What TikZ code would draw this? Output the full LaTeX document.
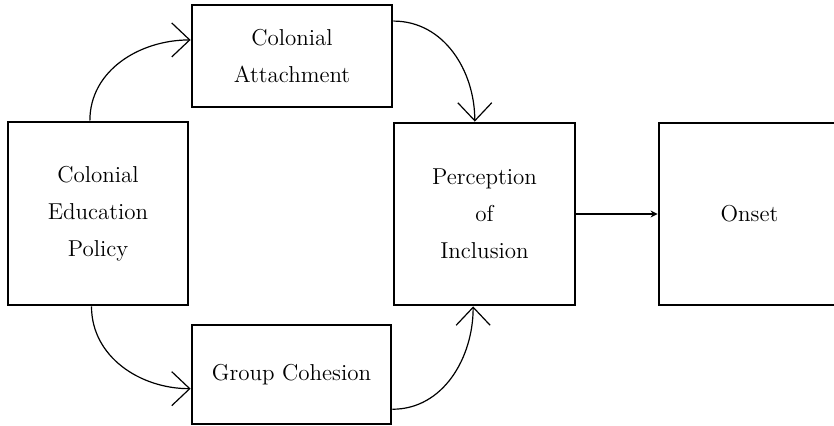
\documentclass[tikz,border=0pt]{standalone}
\usetikzlibrary{arrows.meta}
\tikzset{
  box/.style={draw, line width=1.4pt, align=center, inner sep=0pt, font=\fontsize{11.5}{18.5}\selectfont},
  link/.style={line width=0.6pt, -{Straight Barb[length=9pt,width=17pt]}},
}
\begin{document}
\begin{tikzpicture}[x=0.5pt,y=-0.5pt]
\useasboundingbox (0,0) rectangle (834,426);
\node (cep) at (98,213.5) [box, minimum width=90pt, minimum height=91.5pt]{Colonial\\Education\\Policy};
\node (ca) at (292,56) [box, minimum width=100pt, minimum height=51pt]{Colonial\\Attachment};
\node (gc) at (291.5,374.5) [box, minimum width=99.5pt, minimum height=49.5pt]{Group Cohesion};
\node (pi) at (484.5,214) [box, minimum width=90.5pt, minimum height=91pt]{Perception\\of\\Inclusion};
\node (on) at (749.5,214) [box, minimum width=90.5pt, minimum height=91pt]{Onset};
\draw[link] (cep.95.6) to[out=90, in=180] (ca.171.5);
\draw[link] (ca.19.8) to[out=0, in=90] (pi.96);
\draw[link] (cep.266.3) to[out=-90, in=180] (gc.188.3);
\draw[link] (gc.341.9) to[out=0, in=-90] (pi.263.4);
\draw[line width=1pt, -{Stealth[length=3.5pt,width=3.5pt]}] (pi) -- (on);
\end{tikzpicture}
\end{document}
